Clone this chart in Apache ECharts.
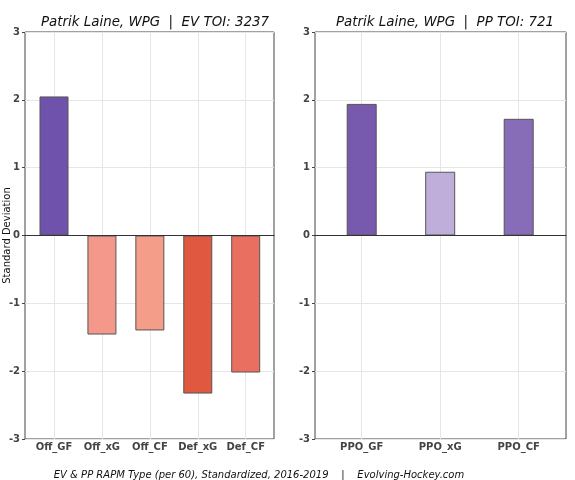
<!DOCTYPE html>
<html><head><meta charset="utf-8">
<script src="https://cdn.jsdelivr.net/npm/echarts@6/dist/echarts.min.js"></script>
<style>html,body{margin:0;padding:0;background:#fff}#c{width:575px;height:480px}</style>
</head><body><div id="c"></div>
<script>
const evCategories = ['Off_GF', 'Off_xG', 'Off_CF', 'Def_xG', 'Def_CF'];
const evValues = [2.05, -1.46, -1.40, -2.33, -2.02];
const evColors = ['#6f52ac', '#f3988a', '#f49e8a', '#e0583f', '#e97060'];
const ppCategories = ['PPO_GF', 'PPO_xG', 'PPO_CF'];
const ppValues = [1.94, 0.94, 1.72];
const ppColors = ['#775aae', '#bfaed9', '#876cb8'];
const yMin = -3, yMax = 3, yStep = 1;
const evTitle = 'Patrik Laine, WPG  |  EV TOI: 3237';
const ppTitle = 'Patrik Laine, WPG  |  PP TOI: 721';
const caption = 'EV & PP RAPM Type (per 60), Standardized, 2016-2019    |    Evolving-Hockey.com';
const yName = 'Standard Deviation';

const FONT = 'DejaVu Sans';
const gridColor = '#e6e6e6';
const plotTop = 32, plotHeight = 407;

function frameX(gi) {
  return { gridIndex: gi, type: 'value', min: 0, max: 1, z: 5,
    axisLine: { show: true, onZero: true, lineStyle: { color: '#333', width: 1 } },
    axisTick: { show: false }, axisLabel: { show: false }, splitLine: { show: false } };
}
function frameY(gi, withName) {
  const a = { gridIndex: gi, type: 'value', min: yMin, max: yMax, interval: yStep,
    axisLine: { show: false },
    axisTick: { show: true, length: 3, lineStyle: { color: '#444' } },
    axisLabel: { color: '#444', fontWeight: 'bold', fontSize: 10, fontFamily: FONT, margin: 5 },
    splitLine: { show: true, lineStyle: { color: gridColor, width: 1 } } };
  if (withName) Object.assign(a, { name: yName, nameLocation: 'middle', nameGap: 13, nameRotate: 90,
    nameMoveOverlap: false,
    nameTextStyle: { color: '#111', fontSize: 10, fontFamily: FONT } });
  return a;
}
function dataX(gi, cats) {
  return { gridIndex: gi, type: 'category', data: cats, boundaryGap: false,
    axisLine: { show: false, onZero: false }, axisTick: { show: false },
    axisLabel: { color: '#444', fontWeight: 'bold', fontSize: 10, fontFamily: FONT, margin: 3, interval: 0 },
    splitLine: { show: true, interval: 0, lineStyle: { color: gridColor, width: 1 } } };
}
function dataY(gi) {
  return { gridIndex: gi, type: 'value', min: yMin, max: yMax, interval: yStep, show: false, splitLine: { show: false } };
}
function bars(xi, vals, cols, w) {
  return { type: 'bar', xAxisIndex: xi, yAxisIndex: xi, barWidth: w, clip: false, z: 3,
    data: vals.map((v, i) => ({ value: v, itemStyle: { color: cols[i] } })),
    itemStyle: { borderColor: '#555', borderWidth: 1 } };
}
function grid(left, width, frame) {
  const g = { left: left, top: plotTop, width: width, height: plotHeight, containLabel: false, outerBoundsMode: 'none' };
  if (frame) Object.assign(g, { show: true, borderColor: '#444', borderWidth: 1, backgroundColor: 'transparent' });
  return g;
}

const chart = echarts.init(document.getElementById('c'), null, { renderer: 'canvas' });
chart.setOption({
  animation: false,
  backgroundColor: '#fff',
  title: [
    { text: evTitle, left: 150, textAlign: 'center', top: 11,
      textStyle: { fontFamily: FONT, fontStyle: 'italic', fontWeight: 'normal', fontSize: 13.4, color: '#111' } },
    { text: ppTitle, left: 440, textAlign: 'center', top: 11,
      textStyle: { fontFamily: FONT, fontStyle: 'italic', fontWeight: 'normal', fontSize: 13.4, color: '#111' } },
    { text: caption, left: 254, textAlign: 'center', top: 465,
      textStyle: { fontFamily: FONT, fontStyle: 'italic', fontWeight: 'normal', fontSize: 10, color: '#111' } }
  ],
  grid: [grid(25, 249, true), grid(315, 251, true), grid(54, 191.7, false), grid(361.7, 157, false)],
  xAxis: [frameX(0), frameX(1), dataX(2, evCategories), dataX(3, ppCategories)],
  yAxis: [frameY(0, true), frameY(1, false), dataY(2), dataY(3)],
  series: [
    { type: 'bar', xAxisIndex: 0, yAxisIndex: 0, data: [] },
    bars(2, evValues, evColors, 29),
    bars(3, ppValues, ppColors, 30)
  ]
});
</script></body></html>
